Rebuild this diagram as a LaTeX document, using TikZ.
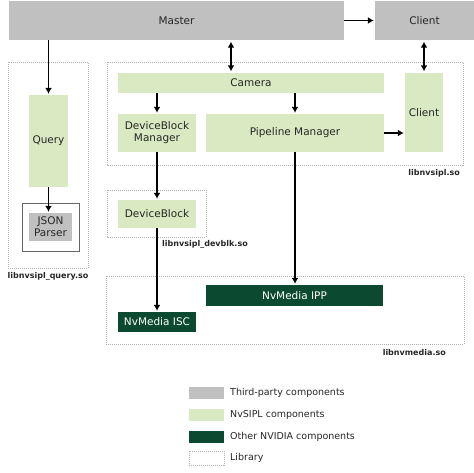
\documentclass[tikz,border=0pt]{standalone}
\usepackage{fontspec}
\setmainfont{DejaVu Sans}
\usetikzlibrary{arrows.meta}
\definecolor{thirdgray}{HTML}{C0C0C0}
\definecolor{sipllight}{HTML}{D9EAC2}
\definecolor{nvdark}{HTML}{0B4A31}
\begin{document}
\begin{tikzpicture}[x=1pt,y=-1pt,
    every node/.style={font=\fontsize{10.5}{12}\selectfont, text=black!85, inner sep=0pt, align=center},
    third/.style={fill=thirdgray},
    sipl/.style={fill=sipllight},
    nvidia/.style={fill=nvdark, text=white},
    library/.style={draw=gray!60, line width=0.6pt, dash pattern=on 1pt off 1pt},
    libname/.style={font=\bfseries\fontsize{8}{10}\selectfont},
    legendtext/.style={font=\fontsize{9.5}{11}\selectfont, anchor=west},
    flow/.style={line width=1.5pt, -{Latex[length=6pt,width=7pt]}, shorten >=1pt},
    both/.style={line width=1.5pt, {Latex[length=6pt,width=7pt]}-{Latex[length=6pt,width=7pt]}, shorten >=1.5pt, shorten <=1.5pt}]
    \useasboundingbox (0,0) rectangle (474,472);
    % libraries
    \draw[library] (8,62) rectangle (88,268);
    \draw[library] (107,62) rectangle (463,165);
    \draw[library] (107,190) rectangle (206,237);
    \draw[library] (106,276) rectangle (464,344);
    \node[libname] (querylib) at (48,276) {libnvsipl\_query.so};
    \node[libname, anchor=east] (sipllib) at (460,173) {libnvsipl.so};
    \node[libname, anchor=west] (devblklib) at (162,244) {libnvsipl\_devblk.so};
    \node[libname, anchor=east] (medialib) at (446,353) {libnvmedia.so};
    % components
    \node[third, minimum width=335, minimum height=39] (master) at (176.5,20.5) {Master};
    \node[third, minimum width=99, minimum height=39] (clienttop) at (424.5,20.5) {Client};
    \node[sipl, minimum width=39, minimum height=92] (query) at (48.5,141) {Query};
    \node[draw=gray!80!black, line width=0.8pt, minimum width=57, minimum height=48] (jsonbox) at (50.5,227) {};
    \node[third, minimum width=43, minimum height=28] (json) at (50.5,227) {JSON\\Parser};
    \node[sipl, minimum width=266, minimum height=20] (camera) at (251,83) {Camera};
    \node[sipl, minimum width=38, minimum height=79] (client) at (424,112.5) {Client};
    \node[sipl, minimum width=78, minimum height=38] (dbm) at (157,133) {DeviceBlock\\Manager};
    \node[sipl, minimum width=178, minimum height=38] (pm) at (295,133) {Pipeline Manager};
    \node[sipl, minimum width=78, minimum height=28] (devblk) at (157,214) {DeviceBlock};
    \node[nvidia, minimum width=177, minimum height=21] (ipp) at (294.5,295.5) {NvMedia IPP};
    \node[nvidia, minimum width=78, minimum height=20] (isc) at (157,322) {NvMedia ISC};
    % connectors
    \coordinate (mc) at (231,0);
    \draw[flow] (master.east) -- (clienttop.west);
    \draw[both] (master.south -| mc) -- (camera.north -| mc);
    \draw[both] (clienttop.south -| client.north) -- (client.north);
    \draw[flow] (master.south -| query.north) -- (query.north);
    \draw[flow] (query.south) -- (json.north -| query.south);
    \draw[flow] (camera.south -| dbm.north) -- (dbm.north);
    \draw[flow] (camera.south -| pm.north) -- (pm.north);
    \draw[flow] (pm.east) -- (client.west |- pm.east);
    \draw[flow] (dbm.south) -- (devblk.north);
    \draw[flow] (devblk.south) -- (isc.north);
    \draw[flow] (pm.south) -- (ipp.north -| pm.south);
    % legend
    \node[third, minimum width=35, minimum height=12] (keythird) at (206.5,393) {};
    \node[sipl, minimum width=35, minimum height=12] (keysipl) at (206.5,415) {};
    \node[nvidia, minimum width=35, minimum height=12] (keynvidia) at (206.5,437) {};
    \node[library, minimum width=35, minimum height=14] (keylib) at (206.5,458) {};
    \node[legendtext] at (230,393) {Third-party components};
    \node[legendtext] at (230,415) {NvSIPL components};
    \node[legendtext] at (230,437) {Other NVIDIA components};
    \node[legendtext] at (230,458) {Library};
\end{tikzpicture}
\end{document}
